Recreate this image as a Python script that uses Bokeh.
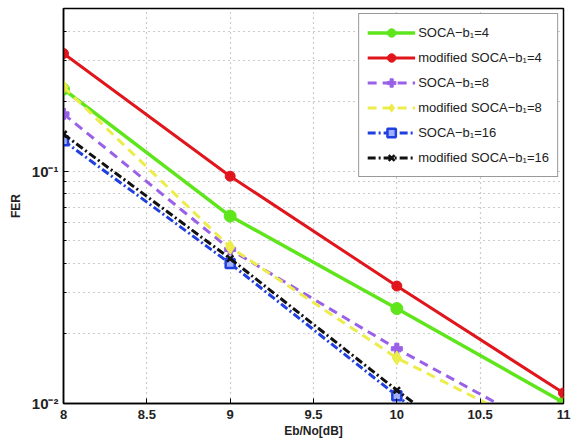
from bokeh.plotting import figure
from bokeh.models import FixedTicker, Legend, LegendItem
from bokeh.embed import file_html
from bokeh.resources import INLINE

# Data (Eb/No in dB, FER)
ebno = [8, 9, 10, 11]
soca_b4 = [0.225, 0.064, 0.0256, 0.0101]
mod_soca_b4 = [0.32, 0.095, 0.032, 0.0111]
soca_b8 = [0.176, 0.046, 0.0172, 0.0070]
mod_soca_b8 = [0.23, 0.047, 0.0157, 0.0068]
soca_b16 = [0.135, 0.040, 0.0108, 0.0030]
mod_soca_b16 = [0.144, 0.042, 0.0114, 0.0033]

labels = ["SOCA\u2212b\u2081=4", "modified SOCA\u2212b\u2081=4",
          "SOCA\u2212b\u2081=8", "modified SOCA\u2212b\u2081=8",
          "SOCA\u2212b\u2081=16", "modified SOCA\u2212b\u2081=16"]

x_ticks = [8, 8.5, 9, 9.5, 10, 10.5, 11]
x_tick_labels = {8: "8", 8.5: "8.5", 9: "9", 9.5: "9.5", 10: "10", 10.5: "10.5", 11: "11"}
y_ticks = [0.01, 0.1]
y_tick_labels = {0.01: "10\u207b\u00b2", 0.1: "10\u207b\u00b9"}
y_minor = [0.02, 0.03, 0.04, 0.05, 0.06, 0.07, 0.08, 0.09, 0.2, 0.3, 0.4, 0.5]

FONT = "Liberation Sans"

p = figure(width=571, height=446, x_range=(8, 11), y_range=(0.01, 0.5),
           y_axis_type="log", output_backend="svg", toolbar_location=None,
           min_border_left=63, min_border_right=8, min_border_top=8,
           min_border_bottom=43, background_fill_color="white",
           border_fill_color="white")

p.outline_line_color = "black"
p.outline_line_width = 1.5

p.xaxis.ticker = FixedTicker(ticks=x_ticks)
p.yaxis.ticker = FixedTicker(ticks=y_ticks, minor_ticks=y_minor)
p.yaxis.major_label_overrides = y_tick_labels
p.xaxis.major_label_overrides = x_tick_labels

for ax in [p.xaxis, p.yaxis]:
    ax.axis_line_color = "black"
    ax.axis_line_width = 1.5
    ax.major_tick_in = 5
    ax.major_tick_out = 0
    ax.minor_tick_in = 3
    ax.minor_tick_out = 0
    ax.major_tick_line_color = "black"
    ax.major_label_text_font = FONT
    ax.major_label_text_font_size = "13px"
    ax.major_label_text_font_style = "bold"
    ax.major_label_text_color = "#222222"
    ax.axis_label_text_font = FONT
    ax.axis_label_text_font_size = "12px"
    ax.axis_label_text_font_style = "bold"
    ax.axis_label_text_color = "#222222"

p.yaxis.major_label_text_font_size = "15px"
p.xaxis.minor_tick_in = 0
p.xaxis.major_label_standoff = 6
p.xaxis.axis_label = "Eb/No[dB]"
p.xaxis.axis_label_standoff = 2
p.yaxis.axis_label = "FER"
p.yaxis.major_label_standoff = 5
p.yaxis.axis_label_standoff = 6

p.xgrid.grid_line_color = "#999999"
p.xgrid.grid_line_dash = "1 4"
p.xgrid.grid_line_width = 1.2
p.ygrid.grid_line_color = "#999999"
p.ygrid.grid_line_dash = "1 4"
p.ygrid.grid_line_width = 1.2
p.ygrid.minor_grid_line_color = "#999999"
p.ygrid.minor_grid_line_dash = "1 4"
p.ygrid.minor_grid_line_width = 1.2

items = []

def series(y, color, dash, width, marker, msize, label, fill=None, mline=1):
    r1 = p.line(ebno, y, line_color=color, line_width=width, line_dash=dash)
    fc = color if fill is None else fill
    r2 = p.scatter(ebno, y, marker=marker, size=msize, line_color=color,
                   fill_color=fc, line_width=mline)
    items.append(LegendItem(label=label, renderers=[r1, r2]))

series(soca_b4, "#5ee51c", "solid", 3.5, "circle", 12, labels[0])
series(mod_soca_b4, "#e0161c", "solid", 3, "circle", 10, labels[1])
series(soca_b8, "#9a60e8", "9 6", 3, "plus", 11, labels[2])
series(mod_soca_b8, "#ecec4a", "9 6", 3, "diamond", 14, labels[3])
series(soca_b16, "#1f3fe0", "8 3 2 3", 3, "square", 9, labels[4], fill="#9fb0ff", mline=2.5)
series(mod_soca_b16, "#111111", "8 3 2 3", 3, "x", 9, labels[5], mline=2.5)

legend = Legend(items=items, location="top_right")
legend.label_text_font = FONT
legend.label_text_font_size = "13px"
legend.label_text_color = "#222222"
legend.glyph_width = 48
legend.glyph_height = 21
legend.label_height = 21
legend.spacing = 4
legend.padding = 8
legend.margin = 5
legend.label_standoff = 3
legend.border_line_color = "#333333"
legend.border_line_width = 1.5
legend.background_fill_alpha = 1.0
p.add_layout(legend)

open("out.html", "w").write(file_html(p, INLINE))
